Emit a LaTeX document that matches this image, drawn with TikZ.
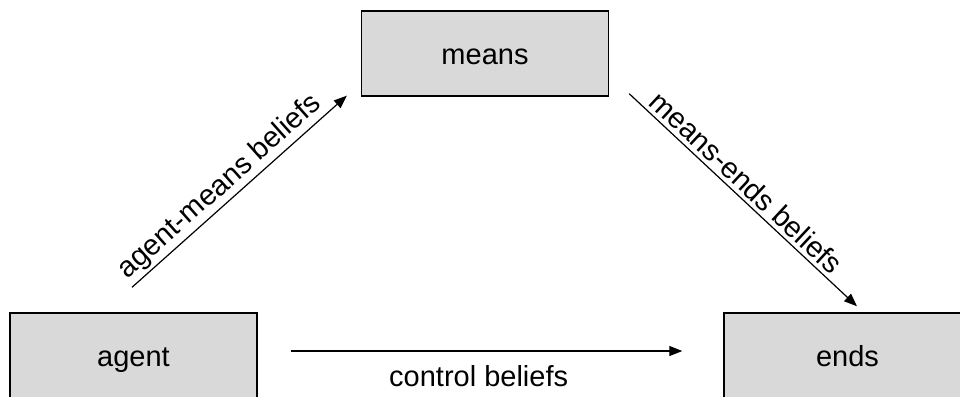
\documentclass[tikz,border=0pt]{standalone}
\usepackage{fontspec}
\setmainfont{Liberation Sans}
\usetikzlibrary{arrows.meta,calc}
\definecolor{boxgray}{HTML}{D9D9D9}
\tikzset{
  box/.style={draw=black, line width=1.4pt, fill=boxgray, minimum width=247pt, minimum height=85pt, inner sep=0pt, text height=22pt, text depth=0pt, font=\fontsize{29}{34}\selectfont},
  arr/.style={line width=1.2pt, -{Triangle[length=13pt,width=10pt]}},
  lbl/.style={font=\fontsize{29}{34}\selectfont}
}
\begin{document}
\begin{tikzpicture}[x=1pt,y=-1pt]
\useasboundingbox (0,0) rectangle (960,396);
\clip (0,0) rectangle (960,396);
\node[box] (means) at (485,53.5) {means};
\node[box] (agent) at (133.5,355.5) {agent};
\node[box] (ends) at (847.5,355.5) {ends};
\draw[arr] ([shift={(-1.5pt,25pt)}]agent.north) -- node[lbl, pos=0.46, sloped, above, inner sep=2pt] {agent-means beliefs} ([shift={(-14pt,1pt)}]means.south west);
\draw[arr] ([shift={(20pt,3pt)}]means.south east) -- node[lbl, pos=0.47, sloped, above, inner sep=4pt] {means-ends beliefs} ([shift={(9.5pt,6pt)}]ends.north);
\draw[arr] ([shift={(33pt,4.5pt)}]agent.east) -- node[lbl, pos=0.48, below=11pt] {control beliefs} ([shift={(-41pt,4.5pt)}]ends.west);
\end{tikzpicture}
\end{document}
